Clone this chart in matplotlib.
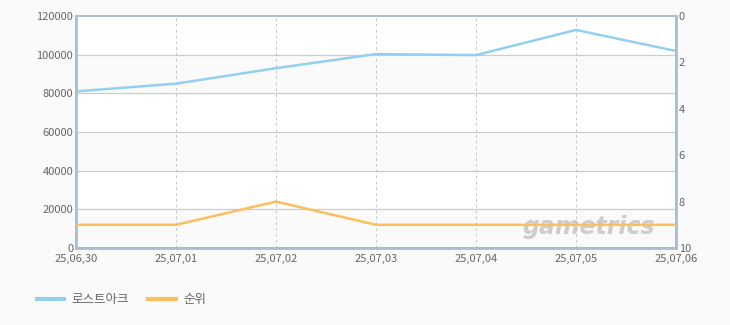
import matplotlib.pyplot as plt
from matplotlib.lines import Line2D

plt.rcParams['font.family'] = ['Noto Sans CJK KR', 'DejaVu Sans']

# -------- DATA --------
dates = ["25,06,30", "25,07,01", "25,07,02", "25,07,03", "25,07,04", "25,07,05", "25,07,06"]
players = [81000, 85000, 93000, 100300, 99800, 112800, 101900]
rank = [9, 9, 8, 9, 9, 9, 9]
left_ticks = [0, 20000, 40000, 60000, 80000, 100000, 120000]
right_ticks = [0, 2, 4, 6, 8, 10]

BLUE = "#93d0f0"
ORANGE = "#fdbf5c"
TXT = "#666666"
FRAME = "#a9bdd3"

fig = plt.figure(figsize=(7.3, 3.25), dpi=100, facecolor="#fafafa")
ax = fig.add_axes([76/730, 1-248/325, 600/730, 232/325])
ax.set_facecolor("white")

x = list(range(len(dates)))

# alternating bands
for i in range(len(left_ticks)-1):
    if i % 2 == 0:
        ax.axhspan(left_ticks[i], left_ticks[i+1], color="#fafafa", zorder=0)

for t in left_ticks[1:-1]:
    ax.axhline(t, color="#cccccc", lw=0.9, zorder=1)
for xi in x[1:-1]:
    ax.axvline(xi, color="#c8c8c8", lw=0.7, ls=(0, (3, 3)), zorder=1)

ax.plot(x, players, color=BLUE, lw=1.8, zorder=3)
ax.set_xlim(0, len(dates)-1)
ax.set_ylim(0, 120000)
ax.set_yticks(left_ticks)
ax.set_xticks(x)
ax.set_xticklabels(dates)

ax2 = ax.twinx()
ax2.plot(x, rank, color=ORANGE, lw=1.8, zorder=3)
ax2.set_ylim(10, 0)
ax2.set_yticks(right_ticks)

for a in (ax, ax2):
    a.tick_params(length=0, labelsize=8, labelcolor=TXT, pad=2)
    for s in a.spines.values():
        s.set_color(FRAME)
        s.set_linewidth(1.2)
ax.spines['left'].set_linewidth(2)
ax.spines['bottom'].set_linewidth(2)
ax2.spines['right'].set_linewidth(2)
ax.tick_params(axis='x', pad=4)

# watermark
ax.text(0.965, 0.09, "gametrics", transform=ax.transAxes, ha="right", va="center",
        fontsize=17, fontweight="bold", style="italic", color="#b0b0b0", alpha=0.6,
        family="DejaVu Sans", zorder=2)

handles = [Line2D([], [], color=BLUE, lw=3), Line2D([], [], color=ORANGE, lw=3)]
fig.legend(handles, ["로스트아크", "순위"], loc="center left", bbox_to_anchor=(0.035, 1-300/325),
           ncol=2, frameon=False, fontsize=9, labelcolor=TXT, handlelength=2.2,
           handletextpad=0.6, columnspacing=1.5)

fig.savefig("out.png", dpi=100, facecolor=fig.get_facecolor())
